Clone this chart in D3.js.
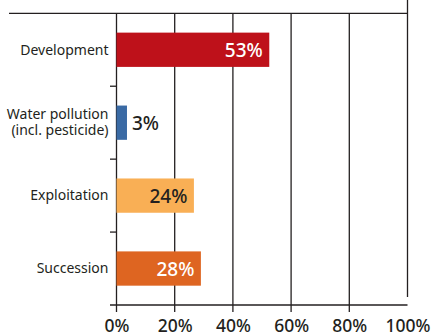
<!DOCTYPE html>
<html>
<head>
<meta charset="utf-8">
<script src="https://cdn.jsdelivr.net/npm/d3@7"></script>
<style>
  html, body { margin: 0; padding: 0; background: #fff; }
  svg { display: block; }
  text { font-family: "Noto Sans", "Liberation Sans", Arial, sans-serif; fill: #231f20; }
</style>
</head>
<body>
<svg id="chart" width="432" height="336"></svg>
<script>
// ---- data ----
const categories = ["Development", "Water pollution (incl. pesticide)", "Exploitation", "Succession"];
const categoryLines = [["Development"], ["Water pollution", "(incl. pesticide)"], ["Exploitation"], ["Succession"]];
const values = [52.5, 3.6, 26.6, 29];
const valueLabels = ["53%", "3%", "24%", "28%"];
const tickValues = [0, 20, 40, 60, 80, 100];
const tickLabels = ["0%", "20%", "40%", "60%", "80%", "100%"];

// ---- styles ----
const barColors = ["#be111a", "#3a6aa4", "#f9af55", "#de6521"];
const labelColors = ["#ffffff", "#231f20", "#231f20", "#ffffff"];
const ink = "#231f20";
const fontStack = "'Noto Sans', 'Liberation Sans', Arial, sans-serif";

(function () {
const svg = d3.select("#chart");
const plotTop = 13.3, plotBottom = 305, plotLeft = 116.5, plotRight = 407.5;

const x = d3.scaleLinear().domain([0, 100]).range([plotLeft, plotRight]);
const y = d3.scaleBand().domain(categories).range([plotTop, plotBottom])
  .paddingInner(0.53).paddingOuter(0.265);
const step = y.step();

// header line
svg.append("line")
  .attr("x1", 9).attr("x2", plotRight).attr("y1", plotTop).attr("y2", plotTop)
  .attr("stroke", ink).attr("stroke-width", 1.3);

// grid lines
svg.append("g").selectAll("line").data(tickValues).join("line")
  .attr("x1", d => x(d)).attr("x2", d => x(d))
  .attr("y1", d => d === 100 ? 0 : plotTop)
  .attr("y2", d => d === 100 ? plotBottom - 8 : plotBottom + 7)
  .attr("stroke", ink).attr("stroke-width", 1.3);

// x axis
const xAxis = svg.append("g").attr("transform", `translate(0,${plotBottom})`)
  .call(d3.axisBottom(x).tickValues(tickValues)
    .tickFormat((d, i) => tickLabels[i]).tickSize(0).tickSizeOuter(0));
xAxis.select(".domain").remove();
xAxis.attr("font-family", null).attr("font-size", null);
xAxis.selectAll("text")
  .attr("y", 27).attr("dy", 0)
  .style("font-size", "17.5px").style("font-weight", 500).style("fill", ink)
  .style("font-family", fontStack);

// axis baseline
svg.append("line")
  .attr("x1", plotLeft - 6.5).attr("x2", plotRight).attr("y1", plotBottom).attr("y2", plotBottom)
  .attr("stroke", ink).attr("stroke-width", 1.3);

// category boundary ticks
const bounds = categories.slice(1).map(c => y(c) + y.bandwidth() / 2 - step / 2);
svg.append("g").selectAll("line").data(bounds).join("line")
  .attr("x1", plotLeft - 6.5).attr("x2", plotLeft).attr("y1", d => d).attr("y2", d => d)
  .attr("stroke", ink).attr("stroke-width", 1.3);

// bars
svg.append("g").selectAll("rect").data(categories).join("rect")
  .attr("x", x(0)).attr("y", d => y(d))
  .attr("width", (d, i) => x(values[i]) - x(0))
  .attr("height", y.bandwidth())
  .attr("fill", (d, i) => barColors[i]);

// category labels
const cl = svg.append("g").selectAll("text").data(categories).join("text")
  .attr("text-anchor", "end").style("font-size", "14px")
  .attr("x", plotLeft - 8)
  .attr("y", d => y(d) + y.bandwidth() / 2);
cl.each(function(d, i) {
  const lines = categoryLines[i];
  const lh = 16;
  d3.select(this).selectAll("tspan").data(lines).join("tspan")
    .attr("x", plotLeft - 8)
    .attr("dy", (l, j) => j === 0 ? (4.8 - (lines.length - 1) * lh / 2) : lh)
    .text(l => l);
});

// value labels
svg.append("g").selectAll("text").data(categories).join("text")
  .style("font-size", "19px").style("font-weight", 500)
  .attr("text-anchor", (d, i) => (x(values[i]) - x(0)) > 40 ? "end" : "start")
  .attr("x", (d, i) => (x(values[i]) - x(0)) > 40 ? x(values[i]) - 6.5 : x(values[i]) + 5)
  .attr("y", d => y(d) + y.bandwidth() / 2 + 7)
  .style("fill", (d, i) => labelColors[i])
  .text((d, i) => valueLabels[i]);
})();
</script>
</body>
</html>
